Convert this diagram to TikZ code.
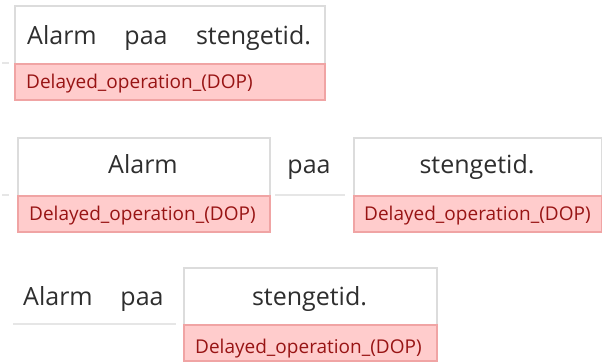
\documentclass[tikz,border=0pt]{standalone}
\usepackage{fontspec}
\setmainfont{Open Sans}
\definecolor{boxgray}{HTML}{DCDCDC}
\definecolor{linegray}{HTML}{E6E6E6}
\definecolor{redfill}{HTML}{FFCCCC}
\definecolor{redline}{HTML}{F0A4A4}
\definecolor{redtext}{HTML}{981414}
\definecolor{wordtext}{HTML}{2E2E2E}
\begin{document}
\begin{tikzpicture}[x=1bp,y=-1bp,
  wbox/.style={draw=boxgray,line width=2bp,fill=white,inner sep=0pt,anchor=north west},
  rbar/.style={draw=redline,line width=1.5bp,fill=redfill,inner sep=0pt,anchor=north west,minimum height=36bp},
  word/.style={text=wordtext,font=\fontsize{25bp}{30bp}\selectfont,inner sep=0pt,anchor=base},
  tag/.style={text=redtext,font=\fontsize{19bp}{23bp}\selectfont,inner sep=0pt,anchor=base west},
  gline/.style={draw=linegray,line width=1.5bp}]
\useasboundingbox (0,0) rectangle (602,362);
% row 1
\coordinate (l1a) at (2,63); \coordinate (l1b) at (9,63);
\draw[gline] (l1a) -- (l1b);
\node[wbox,minimum width=310bp,minimum height=58bp] (b1) at (14,5) {};
\node[rbar,minimum width=310bp] (r1) at (14,63) {};
\node[word] (w1a) at (62,44) {Alarm};
\node[word] (w1b) at (146,44) {paa};
\node[word] (w1c) at (253.5,44) {stengetid.};
\node[tag] (t1) at (26,88) {Delayed\_operation\_(DOP)};
% row 2
\coordinate (l2a) at (2,195); \coordinate (l2b) at (9,195);
\draw[gline] (l2a) -- (l2b);
\coordinate (l2c) at (275,195); \coordinate (l2d) at (345,195);
\draw[gline] (l2c) -- (l2d);
\node[wbox,minimum width=252bp,minimum height=58bp] (b2) at (17,137) {};
\node[rbar,minimum width=252bp] (r2) at (17,195) {};
\node[word] (w2a) at (143,173) {Alarm};
\node[word] (w2b) at (309,173) {paa};
\node[wbox,minimum width=248bp,minimum height=58bp] (b3) at (353,137) {};
\node[rbar,minimum width=248bp] (r3) at (353,195) {};
\node[word] (w2c) at (477,173) {stengetid.};
\node[tag] (t2) at (29,220) {Delayed\_operation\_(DOP)};
\node[tag] (t3) at (364,220) {Delayed\_operation\_(DOP)};
% row 3
\coordinate (l3a) at (13,324); \coordinate (l3b) at (176,324);
\draw[gline] (l3a) -- (l3b);
\node[word] (w3a) at (58,305) {Alarm};
\node[word] (w3b) at (142,305) {paa};
\node[wbox,minimum width=253bp,minimum height=57bp] (b4) at (183,267) {};
\node[rbar,minimum width=253bp] (r4) at (183,324) {};
\node[word] (w3c) at (309.5,305) {stengetid.};
\node[tag] (t4) at (195,353) {Delayed\_operation\_(DOP)};
\end{tikzpicture}
\end{document}
